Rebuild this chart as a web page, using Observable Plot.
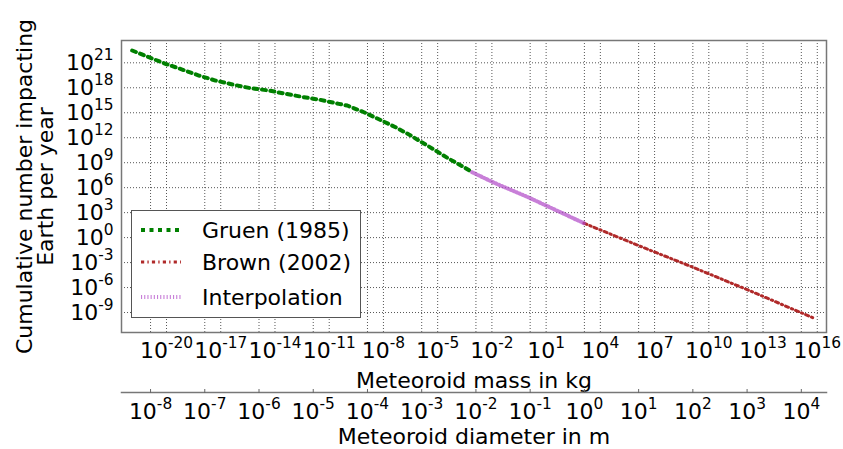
<!DOCTYPE html>
<html><head><meta charset="utf-8">
<script src="https://cdn.jsdelivr.net/npm/d3@7"></script>
<script src="https://cdn.jsdelivr.net/npm/@observablehq/plot@0.6"></script>
<style>
body{margin:0;background:#fff;}
#wrap{position:relative;width:843px;height:449px;font-family:"DejaVu Sans",sans-serif;}
#wrap > svg{position:absolute;left:0;top:0;}
#legend{position:absolute;left:131px;top:210px;width:230px;height:108px;border:1px solid #555;background:#fff;box-sizing:border-box;}
.item{position:absolute;left:0;height:30px;display:flex;align-items:center;font-size:22px;color:#000;white-space:nowrap;}
.item svg{margin-left:9px;margin-right:21px;}
</style></head><body><div id="wrap"></div>
<script>
// ---- data ----
const gruenMass = [1.26e-22, 1.05e-21, 8.7e-21, 7.4e-20, 6.2e-19, 5.1e-18, 5.2e-17, 4.5e-16, 4.6e-15, 3.8e-14, 4.0e-13, 3.3e-12, 3.4e-11, 1.0e-10, 8.3e-10, 6.0e-9, 4.7e-8, 3.2e-7, 9.1e-7, 6.2e-6, 4.2e-5, 3.5e-4, 8.1e-4];
const gruenRate = [3.0e22, 4.7e21, 7.6e20, 1.55e20, 2.95e19, 7.4e18, 2.3e18, 8.9e17, 4.7e17, 1.9e17, 7.4e16, 3.5e16, 1.17e16, 7.4e15, 1.15e15, 1.55e14, 1.8e13, 1.86e12, 4.6e11, 3.8e10, 2.95e9, 2.2e8, 7.2e7];
const interpMass = [8.1e-4, 1.3e-2, 9.1e-1, 4.2e1, 1.23e3];
const interpRate = [7.2e7, 4.0e6, 7.9e4, 1.66e3, 54];
const brownMass = [1.23e3, 1.66e6, 1.48e9, 1.32e12, 8.1e15];
const brownRate = [54, 8.9e-2, 2.5e-4, 5.6e-7, 1.74e-10];

const massTicks = [1e-20, 1e-17, 1e-14, 1e-11, 1e-8, 1e-5, 1e-2, 1e1, 1e4, 1e7, 1e10, 1e13, 1e16];
const diameterTicks = [1e-8, 1e-7, 1e-6, 1e-5, 1e-4, 1e-3, 1e-2, 1e-1, 1e0, 1e1, 1e2, 1e3, 1e4];
const rateTicks = [1e-9, 1e-6, 1e-3, 1e0, 1e3, 1e6, 1e9, 1e12, 1e15, 1e18, 1e21];
const massLimits = [10 ** -22.49, 10 ** 16.51];
const rateLimits = [10 ** -11.4, 10 ** 23.68];
const DENSITY = 2500; // kg/m^3 used to relate diameter and mass

const seriesNames = ["Gruen (1985)", "Brown (2002)", "Interpolation"];
const yLabelLines = ["Cumulative number impacting", "Earth per year"];

// ---- helpers ----
const SUP = {"0":"⁰","1":"¹","2":"²","3":"³","4":"⁴","5":"⁵","6":"⁶","7":"⁷","8":"⁸","9":"⁹","-":"⁻"};
const UNSUP = Object.fromEntries(Object.entries(SUP).map(([k, v]) => [v, k]));
const fmt = v => "10" + String(Math.round(Math.log10(v))).replace(/[-0-9]/g, c => SUP[c]);
const massOfDiameter = d => DENSITY * Math.PI / 6 * d ** 3;
const diameterOfMass = m => Math.cbrt(6 * m / (DENSITY * Math.PI));
const rows = (xs, ys) => xs.map((m, i) => ({mass: m, rate: ys[i]}));

const styles = {
  gruen: {stroke: "#008000", strokeWidth: 4, strokeDasharray: "4,4.5"},
  brown: {stroke: "#b02a2a", strokeWidth: 3, strokeDasharray: "3.2,3.2,1.3,3.2"},
  interp: {stroke: "#b048c8", strokeOpacity: 0.7, strokeWidth: 4, strokeDasharray: "1.1,2.1"}
};
const grid = {stroke: "#444", strokeOpacity: 0.9, strokeDasharray: "1,2", strokeWidth: 1};
const font = {fontFamily: '"DejaVu Sans", sans-serif', fontSize: "22px", color: "#000"};

const main = Plot.plot({
  width: 843, height: 449,
  marginLeft: 121, marginRight: 17, marginTop: 40, marginBottom: 117,
  style: {...font, background: "#fff"},
  x: {type: "log", domain: massLimits},
  y: {type: "log", domain: rateLimits},
  marks: [
    Plot.gridX(massTicks, grid),
    Plot.gridX(diameterTicks.map(massOfDiameter), grid),
    Plot.gridY(rateTicks, grid),
    Plot.line(rows(gruenMass, gruenRate), {x: "mass", y: "rate", ...styles.gruen}),
    Plot.line(rows(brownMass, brownRate), {x: "mass", y: "rate", ...styles.brown}),
    Plot.line(rows(interpMass, interpRate), {x: "mass", y: "rate", ...styles.interp}),
    Plot.frame({stroke: "#777", strokeWidth: 1.5}),
    Plot.axisX(massTicks, {anchor: "bottom", tickSize: 0, tickPadding: 10, tickFormat: fmt, label: null}),
    Plot.axisY(rateTicks, {anchor: "left", tickSize: 0, tickPadding: 8, tickFormat: fmt, label: null}),
    Plot.text(["Meteoroid mass in kg"], {frameAnchor: "bottom", dy: 48, lineAnchor: "middle"}),
    Plot.text([yLabelLines[0]], {frameAnchor: "left", dx: -97, rotate: -90, lineAnchor: "middle", textAnchor: "middle"}),
    Plot.text([yLabelLines[1]], {frameAnchor: "left", dx: -76, rotate: -90, lineAnchor: "middle", textAnchor: "middle"})
  ]
});

const lower = Plot.plot({
  width: 843, height: 449,
  marginLeft: 121, marginRight: 17, marginTop: 392, marginBottom: 56,
  style: {...font, background: "transparent"},
  x: {type: "log", domain: massLimits.map(diameterOfMass)},
  marks: [
    Plot.frame({anchor: "top", stroke: "#777", strokeWidth: 1.5}),
    Plot.tickX(diameterTicks, {x: d => d, insetTop: -3, stroke: "#666"}),
    Plot.axisX(diameterTicks, {anchor: "bottom", tickSize: 0, tickPadding: 10, tickFormat: fmt, label: null}),
    Plot.text(["Meteoroid diameter in m"], {frameAnchor: "bottom", dy: 43, lineAnchor: "middle"})
  ]
});

// turn unicode superscripts of tick labels into smaller raised tspans
const ns = "http://www.w3.org/2000/svg";
for (const svg of [main, lower]) {
  for (const t of svg.querySelectorAll("text")) {
    const m = /^10([⁻⁰¹²³⁴⁵⁶⁷⁸⁹]+)$/.exec(t.textContent);
    if (!m) continue;
    const exp = [...m[1]].map(c => UNSUP[c]).join("");
    t.textContent = "10";
    const ts = document.createElementNS(ns, "tspan");
    ts.setAttribute("font-size", "15.4px");
    ts.setAttribute("dy", "-10");
    ts.textContent = exp;
    t.append(ts);
  }
}

const wrap = document.getElementById("wrap");
wrap.append(main, lower);

// legend
const legend = document.createElement("div");
legend.id = "legend";
const entries = [[seriesNames[0], styles.gruen, 19], [seriesNames[1], styles.brown, 51], [seriesNames[2], styles.interp, 86]];
for (const [name, st, cy] of entries) {
  const item = document.createElement("div");
  item.className = "item";
  item.style.top = (cy - 15) + "px";
  const sw = document.createElementNS(ns, "svg");
  sw.setAttribute("width", 40); sw.setAttribute("height", 10);
  const ln = document.createElementNS(ns, "line");
  ln.setAttribute("x1", 0); ln.setAttribute("x2", 40); ln.setAttribute("y1", 5); ln.setAttribute("y2", 5);
  ln.setAttribute("stroke", st.stroke);
  ln.setAttribute("stroke-width", st.strokeWidth);
  ln.setAttribute("stroke-dasharray", st.strokeDasharray);
  if (st.strokeOpacity) ln.setAttribute("stroke-opacity", st.strokeOpacity);
  sw.append(ln);
  const tx = document.createElement("span");
  tx.textContent = name;
  item.append(sw, tx);
  legend.append(item);
}
wrap.append(legend);
</script>
</body></html>
